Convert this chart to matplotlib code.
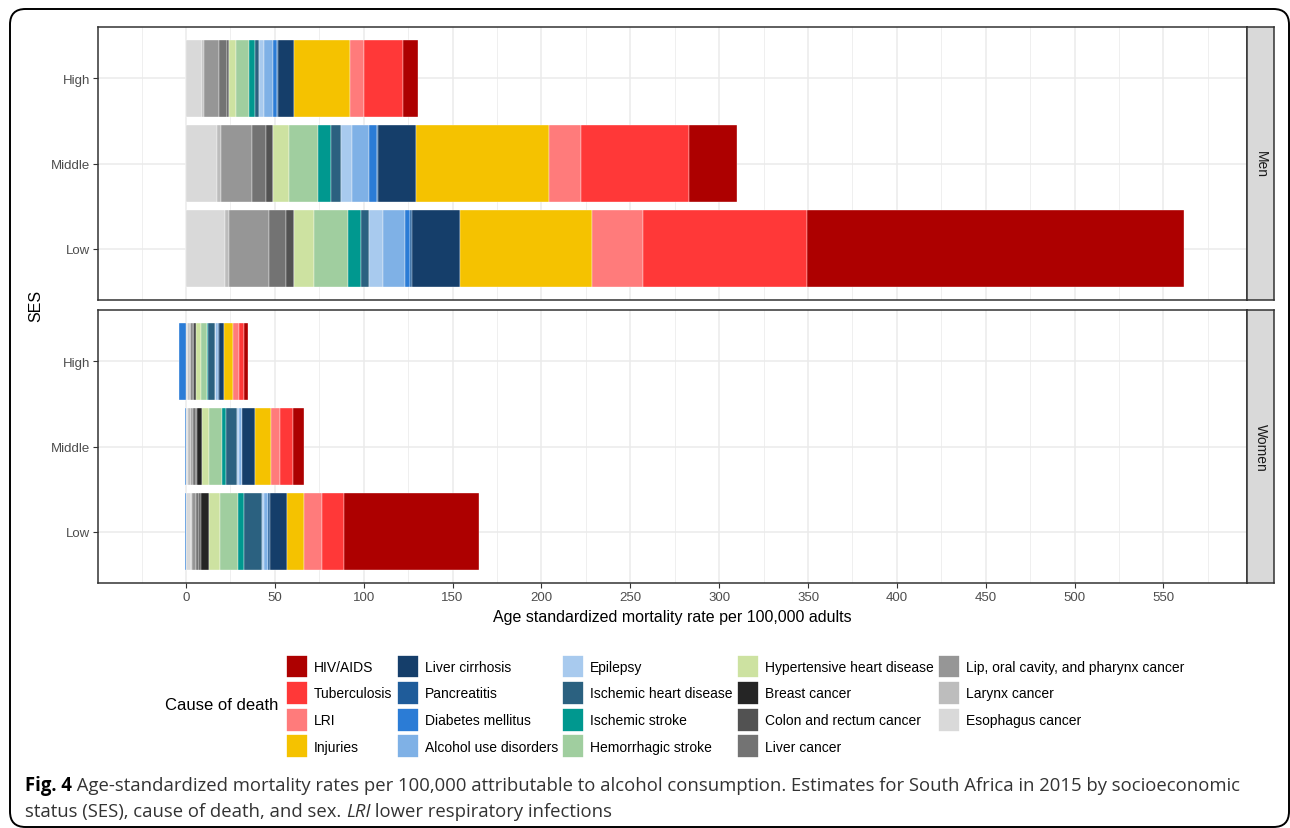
import numpy as np
import matplotlib.pyplot as plt
import matplotlib.patches as mpatches
from matplotlib.patches import FancyBboxPatch

plt.rcParams['font.family'] = ['Liberation Sans', 'DejaVu Sans']

# causes in stacking order (left to right)
causes = ['Esophagus cancer', 'Larynx cancer', 'Lip, oral cavity, and pharynx cancer',
          'Liver cancer', 'Colon and rectum cancer', 'Breast cancer',
          'Hypertensive heart disease', 'Hemorrhagic stroke', 'Ischemic stroke',
          'Ischemic heart disease', 'Epilepsy', 'Alcohol use disorders',
          'Diabetes mellitus', 'Pancreatitis', 'Liver cirrhosis', 'Injuries',
          'LRI', 'Tuberculosis', 'HIV/AIDS']
colors = ['#D9D9D9', '#BDBDBD', '#969696', '#737373', '#525252', '#252525',
          '#CDE2A1', '#A0CE9F', '#00988F', '#2B6180', '#A8CAEE', '#7FB1E6',
          '#2B7CD6', '#1F5C9A', '#153E6A', '#F5C200', '#FF7B7B', '#FF3838', '#AD0000']
ses = ['Low', 'Middle', 'High']

# rates per 100,000, same order as causes
men_low = [22.0, 2.4, 22.5, 9.4, 4.5, 0, 11.3, 19.3, 7.0, 4.5, 7.8, 12.6,
           2.5, 1.1, 27.4, 74.3, 28.7, 92.4, 211.7]
men_middle = [17.3, 2.2, 17.8, 7.7, 3.8, 0, 9.0, 16.7, 7.3, 5.3, 6.2, 9.7,
              4.7, 0.6, 21.0, 75.1, 18.0, 60.8, 27.0]
men_high = [9.0, 1.0, 8.8, 4.1, 1.5, 0, 3.6, 7.7, 3.3, 2.3, 2.8, 4.7,
            2.2, 1.0, 8.8, 31.5, 7.9, 21.8, 8.8]
women_low = [3.1, 0.5, 2.2, 1.6, 1.0, 4.5, 6.2, 10.4, 3.2, 10.0, 1.1, 2.6,
             -0.5, 0.6, 9.6, 9.8, 9.9, 12.4, 76.1]
women_middle = [1.4, 1.3, 1.5, 1.3, 0.6, 2.8, 4.2, 7.1, 2.4, 6.0, 1.0, 1.8,
                -0.8, 0.4, 6.8, 9.0, 5.2, 7.2, 6.2]
women_high = [1.0, 1.0, 1.1, 0.7, 0.6, 1.3, 2.5, 3.9, 0.5, 4.0, 0.4, 1.1,
              -3.7, 0.4, 2.8, 5.0, 3.4, 2.8, 2.5]

W, H = 1290, 829
fig = plt.figure(figsize=(W / 100, H / 100), dpi=100)


def px_rect(x0, y0, x1, y1):
    return [x0 / W, 1 - y1 / H, (x1 - x0) / W, (y1 - y0) / H]


def draw_panel(ax, rows, strip_label, strip_ax, show_x):
    ax.set_facecolor('white')
    y = np.arange(1, 4)
    data = np.array(rows)  # shape 3 x causes
    pos = np.zeros(3)
    neg = np.zeros(3)
    for i, c in enumerate(causes):
        vals = data[:, i]
        left = np.where(vals >= 0, pos, neg)
        ax.barh(y, vals, left=left, height=0.9, color=colors[i],
                edgecolor='white', linewidth=0.25, zorder=3)
        pos = pos + np.where(vals >= 0, vals, 0)
        neg = neg + np.where(vals < 0, vals, 0)
    ax.set_xlim(-49.5, 597)
    ax.set_ylim(0.4, 3.6)
    ax.set_xticks(np.arange(0, 551, 50))
    ax.set_xticks(np.arange(-25, 597, 50), minor=True)
    ax.set_yticks(y)
    ax.set_yticklabels(ses)
    ax.grid(which='major', color='#EBEBEB', linewidth=1.1, zorder=0)
    ax.grid(which='minor', axis='x', color='#EBEBEB', linewidth=0.55, zorder=0)
    ax.tick_params(which='minor', length=0)
    ax.tick_params(which='major', length=3.5, width=0.8, color='#333333',
                   labelcolor='#4D4D4D', labelsize=9.5, pad=2)
    if not show_x:
        ax.tick_params(axis='x', which='major', length=0, labelbottom=False)
    for s in ax.spines.values():
        s.set_color('#333333')
        s.set_linewidth(1.1)
    ax.set_axisbelow(True)

    strip_ax.set_facecolor('#D9D9D9')
    strip_ax.set_xticks([])
    strip_ax.set_yticks([])
    for s in strip_ax.spines.values():
        s.set_color('#333333')
        s.set_linewidth(1.1)
    strip_ax.text(0.5, 0.5, strip_label, rotation=-90, ha='center', va='center',
                  fontsize=10, color='#1A1A1A', transform=strip_ax.transAxes)


ax_men = fig.add_axes(px_rect(98, 28, 1247, 301))
st_men = fig.add_axes(px_rect(1247, 28, 1274, 301))
ax_women = fig.add_axes(px_rect(98, 311, 1247, 584))
st_women = fig.add_axes(px_rect(1247, 311, 1274, 584))

draw_panel(ax_men, [men_low, men_middle, men_high], 'Men', st_men, False)
draw_panel(ax_women, [women_low, women_middle, women_high], 'Women', st_women, True)

fig.text(672 / W, 1 - 618 / H, 'Age standardized mortality rate per 100,000 adults',
         ha='center', va='center', fontsize=11.5, color='black')
fig.text(36 / W, 1 - 306 / H, 'SES', rotation=90, ha='center', va='center',
         fontsize=11.5, color='black')

# legend
handles = [mpatches.Patch(facecolor=colors[i], edgecolor='white', linewidth=1.2,
                          label=causes[i]) for i in range(len(causes) - 1, -1, -1)]
fig.text(165 / W, 1 - 706 / H, 'Cause of death', ha='left', va='center',
         fontsize=12, color='black')
fig.legend(handles=handles, ncol=5, loc='upper left',
           bbox_to_anchor=(286 / W, 1 - 655.5 / H), frameon=False,
           fontsize=10, handlelength=1.6, handleheight=2.28,
           handletextpad=0.42, labelspacing=0.19, columnspacing=0.3,
           borderpad=0, borderaxespad=0)

# outer rounded frame
frame = FancyBboxPatch((10 / W, 1 - 828 / H), 1279 / W, 818 / H,
                       boxstyle='round,pad=0,rounding_size=0.012',
                       transform=fig.transFigure, fill=False,
                       edgecolor='black', linewidth=1.4, mutation_aspect=W / H)
fig.patches.append(frame)

# caption
cap_font = ['Open Sans', 'DejaVu Sans']
renderer = fig.canvas.get_renderer()


def put_pieces(x, y, pieces):
    for txt, weight, style, col in pieces:
        t = fig.text(x / W, 1 - y / H, txt, ha='left', va='center', fontsize=13.35,
                     family=cap_font, weight=weight, style=style, color=col)
        bb = t.get_window_extent(renderer=renderer)
        x += bb.width


put_pieces(25, 786, [
    ('Fig. 4', 'bold', 'normal', 'black'),
    (' Age-standardized mortality rates per 100,000 attributable to alcohol consumption. '
     'Estimates for South Africa in 2015 by socioeconomic', 'normal', 'normal', '#333333'),
])
put_pieces(25, 812, [
    ('status (SES), cause of death, and sex. ', 'normal', 'normal', '#333333'),
    ('LRI', 'normal', 'italic', '#333333'),
    (' lower respiratory infections', 'normal', 'normal', '#333333'),
])

fig.savefig('out.png', dpi=100)
